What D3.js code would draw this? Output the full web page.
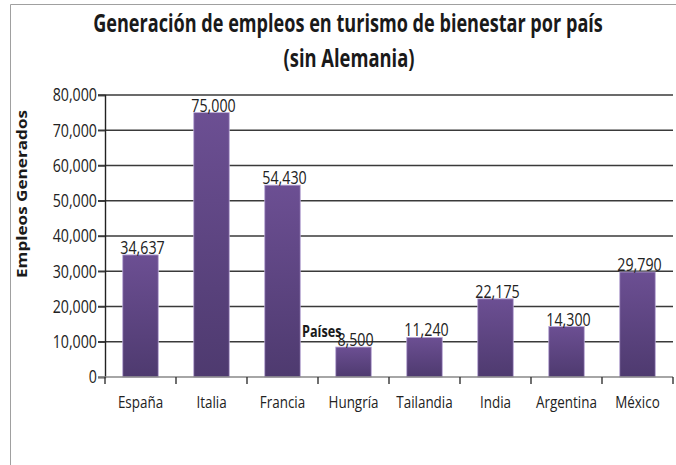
<!DOCTYPE html>
<html>
<head>
<meta charset="utf-8">
<script src="https://cdn.jsdelivr.net/npm/d3@7"></script>
<style>
  body { margin: 0; background: #fff; }
  svg { display: block; }
</style>
</head>
<body>
<script>
// data
const paises = ["España", "Italia", "Francia", "Hungría", "Tailandia", "India", "Argentina", "México"];
const empleos = [34637, 75000, 54430, 8500, 11240, 22175, 14300, 29790];
const yTicks = [0, 10000, 20000, 30000, 40000, 50000, 60000, 70000, 80000];
const titulo = ["Generación de empleos en turismo de bienestar por país", "(sin Alemania)"];

const width = 676, height = 465;
const font = "'Open Sans', 'Liberation Sans', sans-serif";
const sx = 0.79; // reference text is tall and narrow

const svg = d3.select("body").append("svg")
  .attr("width", width)
  .attr("height", height);

// narrow text helper
function label(g, tx, ty, txt, size, anchor, weight) {
  return g.append("text")
    .attr("transform", `translate(${tx},${ty}) scale(${sx},1)`)
    .attr("text-anchor", anchor || "middle")
    .attr("font-family", font)
    .attr("font-size", size)
    .attr("font-weight", weight || "normal")
    .attr("fill", "#222")
    .text(txt);
}

// squeeze a text to a given width
function fitText(g, cx, ty, txt, size, w, weight) {
  const t = g.append("text")
    .attr("text-anchor", "middle")
    .attr("font-family", font)
    .attr("font-size", size)
    .attr("font-weight", weight || "bold")
    .attr("fill", "#1a1a1a")
    .text(txt);
  const k = w / t.node().getComputedTextLength();
  t.attr("transform", `translate(${cx},${ty}) scale(${k},1)`);
  return t;
}

// chart frame (only top and left edges are visible)
svg.append("path")
  .attr("d", `M10.5,${height} V4.5 H${width}`)
  .attr("fill", "none")
  .attr("stroke", "#a0a0a0");

// bar gradient
const grad = svg.append("defs").append("linearGradient")
  .attr("id", "barGrad")
  .attr("x1", 0).attr("y1", 0).attr("x2", 0).attr("y2", 1);
grad.append("stop").attr("offset", "0%").attr("stop-color", "#6c4f93");
grad.append("stop").attr("offset", "100%").attr("stop-color", "#4e3a6f");

const x = d3.scaleBand().domain(paises).range([105, 673]).paddingInner(0.5).paddingOuter(0.25);
const y = d3.scaleLinear().domain([0, 80000]).range([377, 95]);

// gridlines
svg.append("g")
  .selectAll("line")
  .data(yTicks.filter(d => d > 0))
  .join("line")
    .attr("x1", 98).attr("x2", 673)
    .attr("y1", d => y(d)).attr("y2", d => y(d))
    .attr("stroke", "#3a3a3a")
    .attr("stroke-width", 1.6);

// bars
svg.append("g")
  .selectAll("rect")
  .data(paises)
  .join("rect")
    .attr("x", d => x(d))
    .attr("width", x.bandwidth())
    .attr("y", (d, i) => y(empleos[i]))
    .attr("height", (d, i) => y(0) - y(empleos[i]))
    .attr("fill", "url(#barGrad)")
    .attr("stroke", "#b9a8d6")
    .attr("stroke-width", 0.8);

// y axis
const yAxis = svg.append("g")
  .attr("transform", "translate(105,0)")
  .call(d3.axisLeft(y).tickValues(yTicks).tickFormat(d3.format(",")).tickSize(7).tickPadding(1));
yAxis.select(".domain").attr("stroke", "#222").attr("stroke-width", 1.4);
yAxis.selectAll(".tick line").attr("stroke", "#3a3a3a").attr("stroke-width", 1.4);
yAxis.selectAll("text")
  .attr("x", -8 / sx)
  .attr("transform", `scale(${sx},1)`)
  .attr("font-family", font)
  .attr("font-size", 18)
  .attr("fill", "#222");

// x axis with ticks at category boundaries
const xAxis = svg.append("g").attr("transform", `translate(0,${y(0)})`);
xAxis.append("line")
  .attr("x1", 98).attr("x2", 673)
  .attr("stroke", "#888").attr("stroke-width", 1.4);
const step = x.step();
xAxis.selectAll(".bt")
  .data(d3.range(paises.length + 1))
  .join("line")
    .attr("class", "bt")
    .attr("x1", i => 105 + i * step).attr("x2", i => 105 + i * step)
    .attr("y1", 0).attr("y2", 7)
    .attr("stroke", "#333").attr("stroke-width", 1.4);
paises.forEach(d => label(xAxis, x(d) + x.bandwidth() / 2, 31, d, 17));

// value labels
const vals = svg.append("g");
paises.forEach((d, i) =>
  label(vals, x(d) + x.bandwidth() / 2 + 2, y(empleos[i]) - 1, d3.format(",")(empleos[i]), 18));

// title
fitText(svg, 348, 32, titulo[0], 25, 510);
fitText(svg, 349, 67, titulo[1], 25, 131);

// axis titles
svg.append("text")
  .attr("transform", "translate(27,194) rotate(-90)")
  .attr("text-anchor", "middle")
  .attr("font-family", font)
  .attr("font-weight", "bold")
  .attr("font-size", 14)
  .attr("textLength", 168)
  .attr("lengthAdjust", "spacingAndGlyphs")
  .attr("fill", "#1a1a1a")
  .text("Empleos Generados");

label(svg, 302, 337, "Países", 16, "start", "bold").attr("fill", "#1a1a1a");
</script>
</body>
</html>
